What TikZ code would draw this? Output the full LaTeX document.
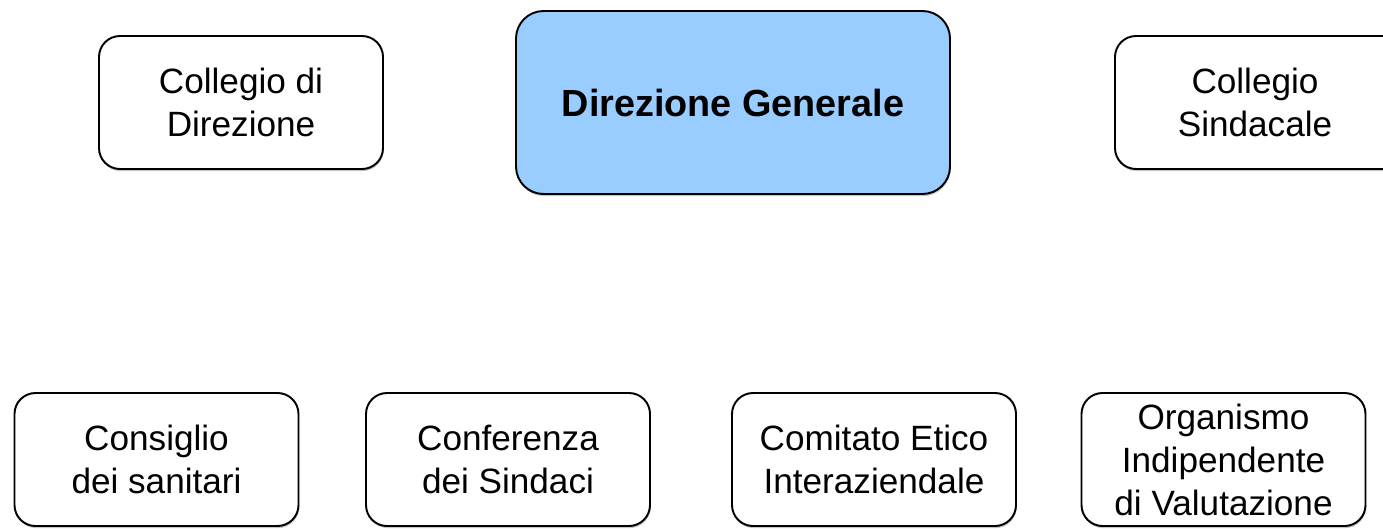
\documentclass[tikz,border=0pt]{standalone}
\usepackage{fontspec}
\setmainfont{Liberation Sans}
\usepackage{xcolor}
\usetikzlibrary{shadows}

\definecolor{dgblue}{HTML}{99CCFF}

\tikzset{
	organo/.style={draw=black, line width=1.1pt, rounded corners=0.42cm, fill=white,
		minimum width=5.68cm, minimum height=2.66cm, inner sep=0pt, align=center,
		font=\fontsize{20}{24.5}\selectfont,
		drop shadow={shadow xshift=0.4pt, shadow yshift=-1.2pt, opacity=0.45, fill=gray}},
	vertice/.style={organo, fill=dgblue, rounded corners=0.55cm,
		minimum width=8.68cm, minimum height=3.66cm,
		font=\fontsize{21.5}{26}\selectfont\bfseries},
	testo/.style={inner sep=0pt, align=center, font=\fontsize{20}{24.5}\selectfont}
}

\begin{document}
\begin{tikzpicture}
			\useasboundingbox (0,0) rectangle (27.66,-10.56);
			\clip (0,0) rectangle (27.66,-10.56);
			
			% prima fila
			\node[organo] (collDirezione) at (4.82,-2.05) {Collegio di\\Direzione};
			\node[vertice] (dirGenerale) at (14.66,-2.05) {Direzione Generale};
			\node[organo, minimum width=7cm] (collSindacale) at (25.8,-2.05) {};
			\node[testo] (collSindacaleTxt) at (25.1,-2.05) {Collegio\\Sindacale};
			
			% seconda fila
			\node[organo] (consSanitari) at (3.13,-9.19) {Consiglio\\dei sanitari};
			\node[organo] (confSindaci) at (10.16,-9.19) {Conferenza\\dei Sindaci};
			\node[organo] (comEtico) at (17.48,-9.19) {Comitato Etico\\Interaziendale};
			\node[organo] (oiv) at (24.47,-9.19) {Organismo\\Indipendente\\di Valutazione};
\end{tikzpicture}
\end{document}
